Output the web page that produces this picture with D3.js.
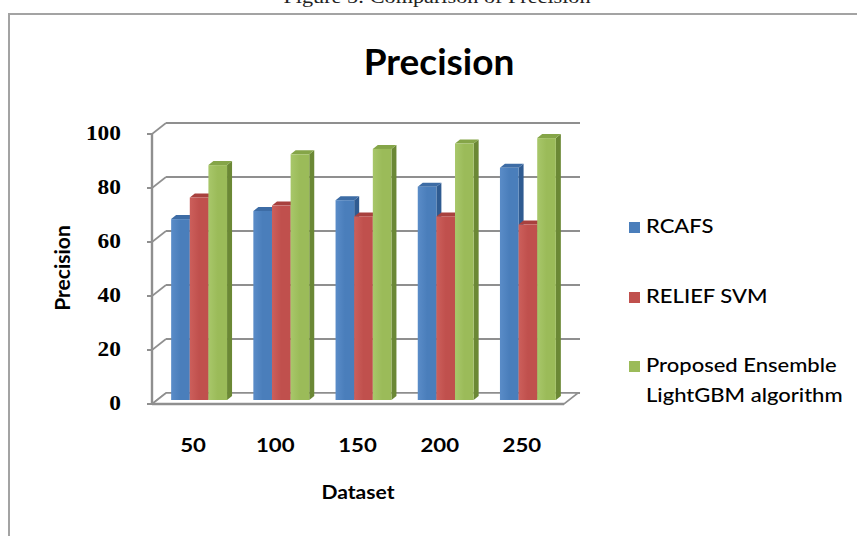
<!DOCTYPE html>
<html>
<head>
<meta charset="utf-8">
<script src="https://cdn.jsdelivr.net/npm/d3@7"></script>
<style>
  html, body { margin: 0; padding: 0; background: #fff; }
  svg { display: block; }
</style>
</head>
<body>
<svg id="chart" width="857" height="536"></svg>
<script>
// ---- data ----
const categories = ["50", "100", "150", "200", "250"];
const seriesNames = ["RCAFS", "RELIEF SVM", "Proposed Ensemble LightGBM algorithm"];
const rcafs = [67, 70, 74, 79, 86];
const reliefSvm = [75, 72, 68, 68, 65];
const proposedLgbm = [87, 91, 93, 95, 97];
const yTicks = [0, 20, 40, 60, 80, 100];
const legendLines = [["RCAFS"], ["RELIEF SVM"], ["Proposed Ensemble", "LightGBM algorithm"]];

const seriesValues = [rcafs, reliefSvm, proposedLgbm];

// ---- styling ----
const palette = [
  { front: "#4a7ebb", light: "#5a8cc8", side: "#2f5b91", top: "#3d6ca5" },
  { front: "#c0504d", light: "#cc5f5b", side: "#8c3431", top: "#a8413e" },
  { front: "#9bbb59", light: "#a8c76a", side: "#6b8835", top: "#85a548" }
];
const gridColor = "#8f8f8f";
const sansFont = "Lato, 'Open Sans', sans-serif";
const serifFont = "'Liberation Serif', 'DejaVu Serif', serif";
const stretch = 1.17;       // horizontal text stretch for axis labels
const legendStretch = 1.1;  // horizontal text stretch for legend entries

const svg = d3.select("#chart");

// 3-D projection offsets
const wall = { dx: 14, dy: -11 };      // back wall relative to front edge
const barPlane = { dx: 5, dy: -4 };    // bar front faces relative to front edge
const barDepth = { dx: 5, dy: -4 };    // thickness of each column

// ---- scales ----
const y = d3.scaleLinear().domain([0, 100]).range([404, 134]);
const x = d3.scaleBand().domain(categories).range([153, 564])
  .paddingInner(0.32).paddingOuter(0.16);
const xs = d3.scaleBand().domain(d3.range(seriesNames.length)).range([0, x.bandwidth()]);

const xLeft = x.range()[0] - 1;
const xRight = x.range()[1];
const wallRight = 580;

// ---- gradients ----
const defs = svg.append("defs");
palette.forEach((p, i) => {
  const g = defs.append("linearGradient").attr("id", "front" + i)
    .attr("x1", "0").attr("x2", "1").attr("y1", "0").attr("y2", "0");
  g.append("stop").attr("offset", "0").attr("stop-color", p.light);
  g.append("stop").attr("offset", "0.5").attr("stop-color", p.front);
  g.append("stop").attr("offset", "1").attr("stop-color", p.front);
});

// ---- outer frame ----
svg.append("path")
  .attr("d", `M9,536 L9,14 L857,14`)
  .attr("fill", "none").attr("stroke", "#a3a3a3").attr("stroke-width", 2);

// figure caption sitting above the frame, running off the top edge
svg.append("text")
  .attr("transform", `translate(437,3) scale(${stretch},1)`)
  .attr("text-anchor", "middle")
  .attr("font-family", serifFont).attr("font-size", 19).attr("fill", "#222")
  .text("Figure 5: Comparison of Precision");

// ---- title ----
svg.append("text")
  .attr("x", 439).attr("y", 75)
  .attr("text-anchor", "middle")
  .attr("font-family", sansFont).attr("font-weight", 700).attr("font-size", 37)
  .attr("fill", "#000")
  .text("Precision");

// ---- back wall gridlines ----
svg.append("g").selectAll("line").data(yTicks).join("line")
  .attr("x1", xLeft + wall.dx).attr("x2", wallRight)
  .attr("y1", d => y(d) + wall.dy).attr("y2", d => y(d) + wall.dy)
  .attr("stroke", gridColor).attr("stroke-width", 2);

// side wall connectors from front axis to back wall
svg.append("g").selectAll("line").data(yTicks).join("line")
  .attr("x1", xLeft).attr("y1", d => y(d))
  .attr("x2", xLeft + wall.dx).attr("y2", d => y(d) + wall.dy)
  .attr("stroke", gridColor).attr("stroke-width", 1.6);

// floor
svg.append("path")
  .attr("d", `M${xLeft},${y(0)} L${xRight},${y(0)} L${xRight + wall.dx},${y(0) + wall.dy} L${xLeft + wall.dx},${y(0) + wall.dy} Z`)
  .attr("fill", "#fff").attr("stroke", gridColor).attr("stroke-width", 1.6);
svg.append("line")
  .attr("x1", xLeft).attr("x2", xRight).attr("y1", y(0)).attr("y2", y(0))
  .attr("stroke", gridColor).attr("stroke-width", 2.4);

// front vertical axis with ticks
svg.append("line")
  .attr("x1", xLeft).attr("x2", xLeft).attr("y1", y(0)).attr("y2", y(100))
  .attr("stroke", gridColor).attr("stroke-width", 2.4);
svg.append("g").selectAll("line").data(yTicks).join("line")
  .attr("x1", xLeft - 5).attr("x2", xLeft).attr("y1", d => y(d)).attr("y2", d => y(d))
  .attr("stroke", gridColor).attr("stroke-width", 2);

// ---- columns ----
const bars = [];
categories.forEach((c, ci) => {
  seriesValues.forEach((vals, si) => {
    bars.push({ cat: c, s: si, v: vals[ci] });
  });
});

const barG = svg.append("g");
bars.forEach(b => {
  const x0 = x(b.cat) + xs(b.s) + barPlane.dx;
  const w = xs.bandwidth();
  const yTop = y(b.v) + barPlane.dy;
  const yBot = y(0) + barPlane.dy;
  const p = palette[b.s];
  const g = barG.append("g");
  // right side face
  g.append("path")
    .attr("d", `M${x0 + w},${yTop} L${x0 + w + barDepth.dx},${yTop + barDepth.dy} L${x0 + w + barDepth.dx},${yBot + barDepth.dy} L${x0 + w},${yBot} Z`)
    .attr("fill", p.side);
  // top face
  g.append("path")
    .attr("d", `M${x0},${yTop} L${x0 + w},${yTop} L${x0 + w + barDepth.dx},${yTop + barDepth.dy} L${x0 + barDepth.dx},${yTop + barDepth.dy} Z`)
    .attr("fill", p.top);
  // front face
  g.append("rect")
    .attr("x", x0).attr("y", yTop).attr("width", w).attr("height", yBot - yTop)
    .attr("fill", `url(#front${b.s})`);
});

// ---- axis labels ----
svg.append("g").selectAll("text").data(yTicks).join("text")
  .attr("transform", d => `translate(121,${y(d) + 6}) scale(${stretch},1)`)
  .attr("text-anchor", "end")
  .attr("font-family", serifFont).attr("font-weight", 700).attr("font-size", 20)
  .attr("fill", "#000")
  .text(d => d);

svg.append("g").selectAll("text").data(categories).join("text")
  .attr("transform", d => `translate(${x(d) + x.bandwidth() / 2 - 1},452) scale(${stretch},1)`)
  .attr("text-anchor", "middle")
  .attr("font-family", sansFont).attr("font-weight", 700).attr("font-size", 19)
  .attr("fill", "#000")
  .text(d => d);

svg.append("text")
  .attr("transform", `translate(358,499) scale(${stretch},1)`)
  .attr("text-anchor", "middle")
  .attr("font-family", sansFont).attr("font-weight", 700).attr("font-size", 18)
  .attr("fill", "#000")
  .text("Dataset");

svg.append("text")
  .attr("transform", `translate(70,268) rotate(-90)`)
  .attr("text-anchor", "middle")
  .attr("font-family", sansFont).attr("font-weight", 700).attr("font-size", 21)
  .attr("fill", "#000")
  .text("Precision");

// ---- legend ----
const legendTop = [233, 303, 372];
const legend = svg.append("g");
seriesNames.forEach((name, i) => {
  legend.append("rect")
    .attr("x", 629).attr("y", legendTop[i] - 11).attr("width", 11).attr("height", 11)
    .attr("fill", palette[i].front);
  legendLines[i].forEach((line, li) => {
    legend.append("text")
      .attr("transform", `translate(646,${legendTop[i] + li * 30}) scale(${legendStretch},1)`)
      .attr("font-family", sansFont).attr("font-weight", 500).attr("font-size", 20).attr("fill", "#000")
      .text(line);
  });
});
</script>
</body>
</html>
